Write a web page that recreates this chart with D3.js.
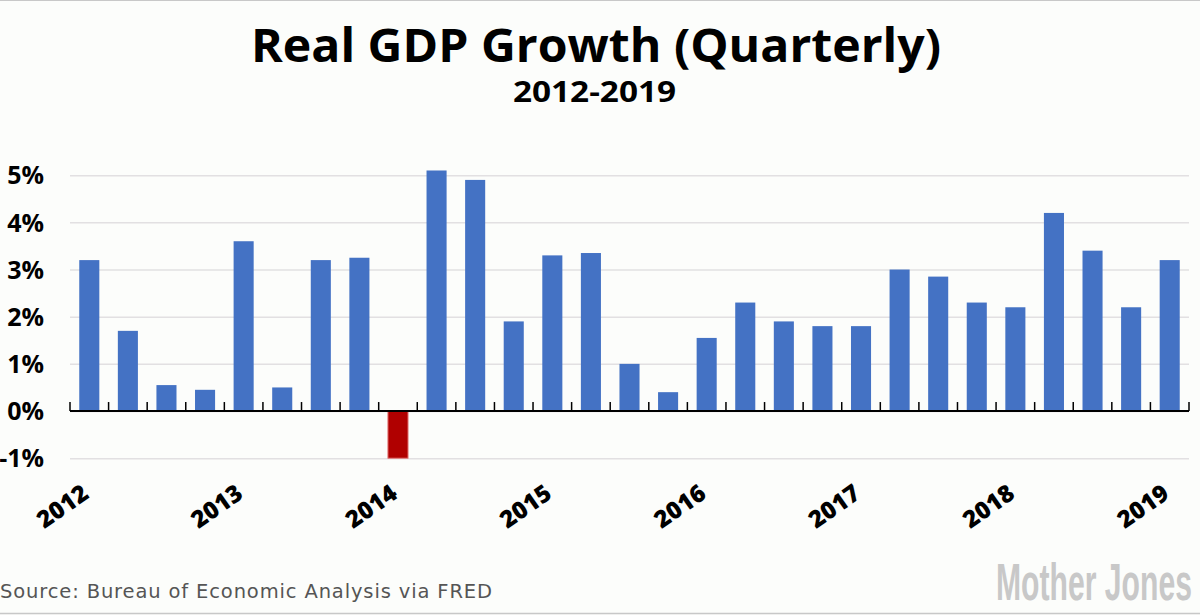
<!DOCTYPE html>
<html><head><meta charset="utf-8">
<script src="https://cdn.jsdelivr.net/npm/d3@7"></script>
<style>
html,body{margin:0;padding:0;background:#fcfdfb;}
svg{display:block;}
</style></head>
<body>
<svg id="chart" width="1200" height="615"></svg>
<script>
const quarters = ["2012Q1","2012Q2","2012Q3","2012Q4","2013Q1","2013Q2","2013Q3","2013Q4",
"2014Q1","2014Q2","2014Q3","2014Q4","2015Q1","2015Q2","2015Q3","2015Q4",
"2016Q1","2016Q2","2016Q3","2016Q4","2017Q1","2017Q2","2017Q3","2017Q4",
"2018Q1","2018Q2","2018Q3","2018Q4","2019Q1"];
const growth = [3.2,1.7,0.55,0.45,3.6,0.5,3.2,3.25,-1.0,5.1,4.9,1.9,3.3,3.35,1.0,0.4,
1.55,2.3,1.9,1.8,1.8,3.0,2.85,2.3,2.2,4.2,3.4,2.2,3.2];
const yTicks = [-1,0,1,2,3,4,5];
const yearLabels = ["2012","2013","2014","2015","2016","2017","2018","2019"];
const yearQuarters = ["2012Q1","2013Q1","2014Q1","2015Q1","2016Q1","2017Q1","2018Q1","2019Q1"];

const W = 1200, H = 615;
const svg = d3.select("#chart");
const left = 70, right = 1189;
const x = d3.scaleBand().domain(quarters).range([left, right]).paddingInner(0.48).paddingOuter(0.24);
const xb = d3.scaleBand().domain(quarters).range([left, right]);
const y = d3.scaleLinear().domain([-1, 5]).range([458.2, 175.2]);

svg.append("rect").attr("width", W).attr("height", H).attr("fill", "#fcfdfb");
svg.append("line").attr("x1",0).attr("x2",W).attr("y1",0.5).attr("y2",0.5).attr("stroke","#c8c8c8").attr("stroke-width",1);
svg.append("line").attr("x1",0).attr("x2",W).attr("y1",613.5).attr("y2",613.5).attr("stroke","#c8c8c8").attr("stroke-width",1.5);

// titles
svg.append("text").attr("x", 251).attr("y", 62)
  .attr("font-family","'Open Sans', sans-serif").attr("font-weight",700).attr("font-size",46)
  .attr("textLength",690).attr("lengthAdjust","spacingAndGlyphs")
  .attr("fill","#000").text("Real GDP Growth (Quarterly)");
svg.append("text").attr("x", 513).attr("y", 102)
  .attr("font-family","'Open Sans', sans-serif").attr("font-weight",700).attr("font-size",28)
  .attr("textLength",163).attr("lengthAdjust","spacingAndGlyphs")
  .attr("fill","#000").text("2012-2019");

// grid
const yAxis = d3.axisLeft(y).tickValues(yTicks).tickSize(-(right-left)).tickFormat(d => d + "%");
const gy = svg.append("g").attr("transform", `translate(${left},0)`).call(yAxis);
gy.select(".domain").remove();
gy.selectAll(".tick line").attr("stroke", "#e2e0e2").attr("stroke-width", 1.5);
gy.selectAll(".tick text").attr("x", -26).attr("dy", "0.35em")
  .attr("font-family","'Open Sans', sans-serif").attr("font-weight",700).attr("font-size",25).attr("fill","#000");

// bars
svg.append("g").selectAll("rect").data(quarters).join("rect")
  .attr("x", d => x(d))
  .attr("width", x.bandwidth())
  .attr("y", (d,i) => y(Math.max(0, growth[i])))
  .attr("height", (d,i) => Math.abs(y(growth[i]) - y(0)))
  .attr("fill", (d,i) => growth[i] < 0 ? "#b00000" : "#4472c4")
  .attr("stroke", (d,i) => growth[i] < 0 ? "#e07070" : "none")
  .attr("stroke-width", 1);

// x axis: ticks at band boundaries
const bounds = quarters.map(q => xb(q)).concat([right]);
const gx = svg.append("g");
gx.append("line").attr("x1", left).attr("x2", right).attr("y1", y(0)).attr("y2", y(0)).attr("stroke","#000").attr("stroke-width",2);
gx.selectAll("line.tk").data(bounds).join("line").attr("class","tk")
  .attr("x1", d => d).attr("x2", d => d).attr("y1", y(0)).attr("y2", y(0) - 9)
  .attr("stroke","#000").attr("stroke-width",1.5);

// year labels
svg.append("g").selectAll("text").data(yearLabels).join("text")
  .attr("transform", (d,i) => `translate(${xb(yearQuarters[i]) + xb.bandwidth()/2 + 1},${497}) rotate(-35)`)
  .attr("text-anchor","end")
  .attr("font-family","'Open Sans', sans-serif").attr("font-weight",800).attr("font-size",24).attr("fill","#000")
  .text(d => d);

// source
svg.append("text").attr("x", 0).attr("y", 598)
  .attr("font-family","'DejaVu Sans', Verdana, sans-serif").attr("font-size",19.5).attr("fill","#555")
  .attr("textLength",492).attr("lengthAdjust","spacing")
  .text("Source: Bureau of Economic Analysis via FRED");

// logo: scaled horizontally to fit its width
const logo = svg.append("text")
  .attr("font-family","'Liberation Sans Narrow', 'Liberation Sans', sans-serif").attr("font-weight",700).attr("font-size",52)
  .attr("fill","#c8c8c8")
  .text("Mother Jones");
const natW = logo.node().getComputedTextLength();
logo.attr("transform", `translate(996,600) scale(${196/natW},1)`);
</script>
</body></html>
